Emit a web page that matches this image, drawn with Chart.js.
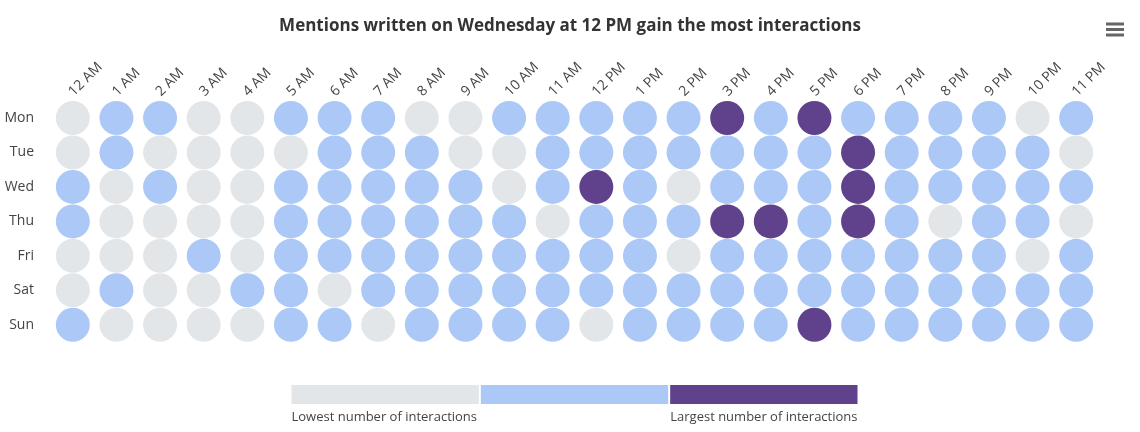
<!DOCTYPE html>
<html>
<head>
<meta charset="utf-8">
<script src="https://cdn.jsdelivr.net/npm/chart.js@4.4.1/dist/chart.umd.min.js"></script>
<style>
    html, body { margin: 0; padding: 0; background: #ffffff; }
    #wrap { width: 1140px; height: 432px; position: relative; }
</style>
</head>
<body>
<div id="wrap"><canvas id="heatplot"></canvas></div>
<script>
// hours along the top, days down the side
var hours = ["12 AM", "1 AM", "2 AM", "3 AM", "4 AM", "5 AM", "6 AM", "7 AM", "8 AM", "9 AM", "10 AM", "11 AM",
             "12 PM", "1 PM", "2 PM", "3 PM", "4 PM", "5 PM", "6 PM", "7 PM", "8 PM", "9 PM", "10 PM", "11 PM"];
var days = ["Mon", "Tue", "Wed", "Thu", "Fri", "Sat", "Sun"];

// interaction level per hour: 0 = lowest, 1 = medium, 2 = largest
var mon = [0, 1, 1, 0, 0, 1, 1, 1, 0, 0, 1, 1, 1, 1, 1, 2, 1, 2, 1, 1, 1, 1, 0, 1];
var tue = [0, 1, 0, 0, 0, 0, 1, 1, 1, 0, 0, 1, 1, 1, 1, 1, 1, 1, 2, 1, 1, 1, 1, 0];
var wed = [1, 0, 1, 0, 0, 1, 1, 1, 1, 1, 0, 1, 2, 1, 0, 1, 1, 1, 2, 1, 1, 1, 1, 1];
var thu = [1, 0, 0, 0, 0, 1, 1, 1, 1, 1, 1, 0, 1, 1, 1, 2, 2, 1, 2, 1, 0, 1, 1, 0];
var fri = [0, 0, 0, 1, 0, 1, 1, 1, 1, 1, 1, 1, 1, 1, 0, 1, 1, 1, 1, 1, 1, 1, 0, 1];
var sat = [0, 1, 0, 0, 1, 1, 0, 1, 1, 1, 1, 1, 1, 1, 1, 1, 1, 1, 1, 1, 1, 1, 1, 1];
var sun = [1, 0, 0, 0, 0, 1, 1, 0, 1, 1, 1, 1, 0, 1, 1, 1, 1, 2, 1, 1, 1, 1, 1, 1];

var levelColors = ["#e3e6e9", "#abc8f7", "#5f418c"];
var legendLabels = ["Lowest number of interactions", "Largest number of interactions"];
var titleText = "Mentions written on Wednesday at 12 PM gain the most interactions";

var FONT = "'Open Sans', sans-serif";

var rows = [mon, tue, wed, thu, fri, sat, sun];
var points = [];
rows.forEach(function (row, d) {
    row.forEach(function (lvl, h) {
        points.push({ x: hours[h], y: days[d], v: lvl });
    });
});

function pointColor(c) {
    return c.raw ? levelColors[c.raw.v] : levelColors[0];
}

// color scale bar + menu icon, drawn after the chart
var extras = {
    id: "extras",
    afterDraw: function (chart) {
        var c = chart.ctx;
        var area = chart.chartArea;
        var mid = (area.left + area.right) / 2;
        var total = 566, gap = 2;
        var seg = (total - gap * (levelColors.length - 1)) / levelColors.length;
        var x0 = mid - total / 2;
        var top = area.bottom + 43;
        c.save();
        levelColors.forEach(function (col, i) {
            c.fillStyle = col;
            c.fillRect(x0 + i * (seg + gap), top, seg, 19);
        });
        c.fillStyle = "#444";
        c.font = "13px " + FONT;
        c.textBaseline = "alphabetic";
        c.textAlign = "left";
        c.fillText(legendLabels[0], x0, top + 36);
        c.textAlign = "right";
        c.fillText(legendLabels[1], x0 + total, top + 36);

        // menu icon
        c.fillStyle = "#666";
        [24, 29.5, 35].forEach(function (y) {
            c.fillRect(1106, y - 1.5, 18, 3);
        });
        c.restore();
    }
};

var ctx = document.getElementById("heatplot").getContext("2d");
var myChart = new Chart(ctx, {
    type: "scatter",
    data: {
        datasets: [
            {
                label: "Interactions",
                data: points,
                pointRadius: 17,
                pointHoverRadius: 17,
                pointBorderWidth: 0,
                pointHoverBorderWidth: 0,
                pointBackgroundColor: pointColor,
                pointHoverBackgroundColor: pointColor
            }
        ]
    },
    options: {
        responsive: true,
        maintainAspectRatio: false,
        animation: false,
        layout: {
            padding: { top: 0, left: 0, right: 0, bottom: 90 }
        },
        plugins: {
            legend: { display: false },
            tooltip: { enabled: false },
            title: {
                display: true,
                text: titleText,
                color: "#333",
                font: { family: FONT, size: 17, weight: "bold", lineHeight: 1.2 },
                padding: { top: 16, bottom: 0 }
            }
        },
        scales: {
            x: {
                type: "category",
                labels: hours,
                position: "top",
                offset: true,
                grid: { display: false, drawTicks: false },
                border: { display: false },
                ticks: {
                    minRotation: 45,
                    maxRotation: 45,
                    autoSkip: false,
                    padding: 1,
                    labelOffset: 10,
                    color: "#444",
                    font: { family: FONT, size: 14 }
                },
                afterFit: function (scale) {
                    scale.height = 64.35;
                }
            },
            y: {
                type: "category",
                labels: days,
                offset: true,
                grid: { display: false, drawTicks: false },
                border: { display: false },
                ticks: {
                    autoSkip: false,
                    padding: 17,
                    color: "#444",
                    font: { family: FONT, size: 14 }
                },
                afterFit: function (scale) {
                    scale.width = 51;
                }
            },
            // empty right-hand margin so the title stays centred on the page
            yr: {
                type: "category",
                labels: days,
                position: "right",
                offset: true,
                grid: { display: false, drawTicks: false },
                border: { display: false },
                ticks: { display: false },
                afterFit: function (scale) {
                    scale.width = 42;
                }
            }
        }
    },
    plugins: [extras]
});
</script>
</body>
</html>
